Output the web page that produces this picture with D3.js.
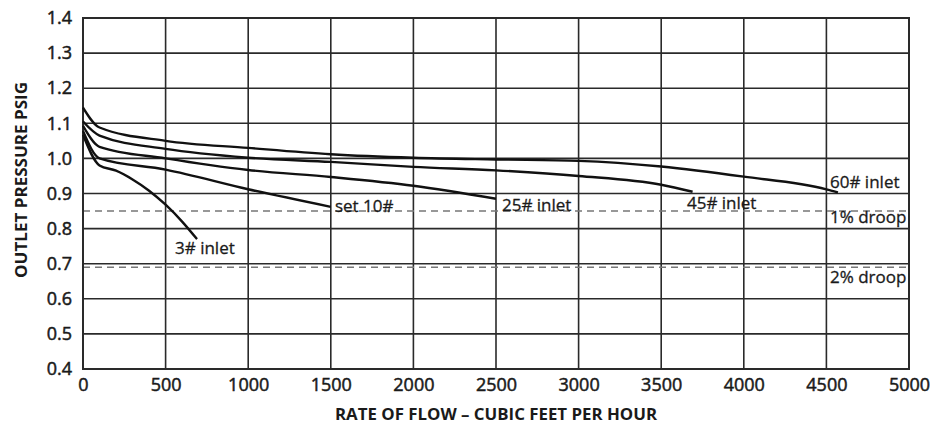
<!DOCTYPE html>
<html><head><meta charset="utf-8">
<script src="https://cdn.jsdelivr.net/npm/d3@7"></script>
<style>
body{margin:0;background:#fff;}
text{font-family:"Open Sans","Noto Sans",sans-serif;fill:#1a1a1a;}
</style>
</head><body>
<svg id="chart" width="947" height="428"></svg>
<script>
// ---- data ----
const xTicks = [0,500,1000,1500,2000,2500,3000,3500,4000,4500,5000];
const yTicks = [0.4,0.5,0.6,0.7,0.8,0.9,1.0,1.1,1.2,1.3,1.4];
const xTitle = "RATE OF FLOW – CUBIC FEET PER HOUR";
const yTitle = "OUTLET PRESSURE PSIG";

const flow60 = [0,100,500,1000,1500,2000,2500,3000,3500,4000,4500,4570];
const pres60 = [1.145,1.088,1.05,1.03,1.012,1.002,0.997,0.993,0.977,0.948,0.912,0.903];
const flow45 = [0,100,500,1000,1500,2000,2500,3000,3500,3690];
const pres45 = [1.105,1.065,1.027,1.002,0.99,0.976,0.966,0.95,0.925,0.905];
const flow25 = [0,100,500,1000,1500,2000,2500];
const pres25 = [1.093,1.033,1.0,0.967,0.947,0.922,0.885];
const flow10 = [0,100,500,1000,1500];
const pres10 = [1.078,1.0,0.968,0.912,0.862];
const flow3  = [0,100,200,300,400,500,600,690];
const pres3  = [1.067,0.98,0.965,0.94,0.908,0.868,0.82,0.77];

const droopNames  = ["1% droop","2% droop"];
const droopValues = [0.85,0.69];

const labelTexts = ["60# inlet","45# inlet","25# inlet","set 10#","3# inlet","1% droop","2% droop"];
const labelFlows = [4522,3656,2536,1525,557,4522,4522];
const labelPres  = [0.933,0.874,0.867,0.864,0.745,0.833,0.663];

// ---- chart ----
const svg = d3.select("#chart");
const x = d3.scaleLinear().domain([0,5000]).range([83,909]);
const y = d3.scaleLinear().domain([0.4,1.4]).range([369,18]);

// grid
svg.append("g").selectAll("line").data(xTicks).join("line")
  .attr("x1",d=>x(d)).attr("x2",d=>x(d)).attr("y1",y(0.4)).attr("y2",y(1.4))
  .attr("stroke","#2a2a2a").attr("stroke-width",1.6);
svg.append("g").selectAll("line").data(yTicks).join("line")
  .attr("x1",x(0)).attr("x2",x(5000)).attr("y1",d=>y(d)).attr("y2",d=>y(d))
  .attr("stroke","#2a2a2a").attr("stroke-width",1.6);

// droop dashed lines
svg.append("g").selectAll("line").data(droopValues).join("line")
  .attr("x1",x(0)).attr("x2",x(5000)).attr("y1",d=>y(d)).attr("y2",d=>y(d))
  .attr("stroke","#777").attr("stroke-width",1.6).attr("stroke-dasharray","7,5");

// frame
svg.append("rect").attr("x",x(0)).attr("y",y(1.4))
  .attr("width",x(5000)-x(0)).attr("height",y(0.4)-y(1.4))
  .attr("fill","none").attr("stroke","#2a2a2a").attr("stroke-width",2);

// axes tick labels
const xAxis = d3.axisBottom(x).tickValues(xTicks).tickSize(0).tickPadding(9).tickFormat(d3.format("d"));
const gx = svg.append("g").attr("transform",`translate(0,${y(0.4)})`).call(xAxis);
gx.select(".domain").remove();
gx.selectAll("text").attr("font-size",18)
  .attr("font-family","'Open Sans','Noto Sans',sans-serif").attr("fill","#1a1a1a")
  .attr("stroke","#1a1a1a").attr("stroke-width",0.5);

const yAxis = d3.axisLeft(y).tickValues(yTicks).tickSize(0).tickPadding(11).tickFormat(d3.format(".1f"));
const gy = svg.append("g").attr("transform",`translate(${x(0)},0)`).call(yAxis);
gy.select(".domain").remove();
gy.selectAll("text").attr("font-size",18)
  .attr("font-family","'Open Sans','Noto Sans',sans-serif").attr("fill","#1a1a1a")
  .attr("stroke","#1a1a1a").attr("stroke-width",0.5);

// curves
const line = d3.line().x(d=>x(d[0])).y(d=>y(d[1])).curve(d3.curveMonotoneX);
const series = [[flow60,pres60],[flow45,pres45],[flow25,pres25],[flow10,pres10],[flow3,pres3]];
svg.append("g").selectAll("path").data(series).join("path")
  .attr("d",s=>line(d3.zip(s[0],s[1])))
  .attr("fill","none").attr("stroke","#111").attr("stroke-width",2.4)
  .attr("stroke-linejoin","round");

// labels
svg.append("g").selectAll("text").data(d3.range(labelTexts.length)).join("text")
  .attr("x",i=>x(labelFlows[i])).attr("y",i=>y(labelPres[i]))
  .attr("dy","0.35em").attr("font-size",17)
  .attr("stroke","#1a1a1a").attr("stroke-width",0.3)
  .text(i=>labelTexts[i]);

// axis titles
svg.append("text").attr("x",(x(0)+x(5000))/2).attr("y",414).attr("dy","0.35em")
  .attr("text-anchor","middle").attr("font-size",16).attr("font-weight",700)
  .attr("textLength",322).attr("lengthAdjust","spacingAndGlyphs").text(xTitle);
svg.append("text").attr("transform","translate(21,180) rotate(-90)").attr("dy","0.35em")
  .attr("text-anchor","middle").attr("font-size",16).attr("font-weight",700)
  .attr("textLength",196).attr("lengthAdjust","spacingAndGlyphs").text(yTitle);
</script>
</body></html>
